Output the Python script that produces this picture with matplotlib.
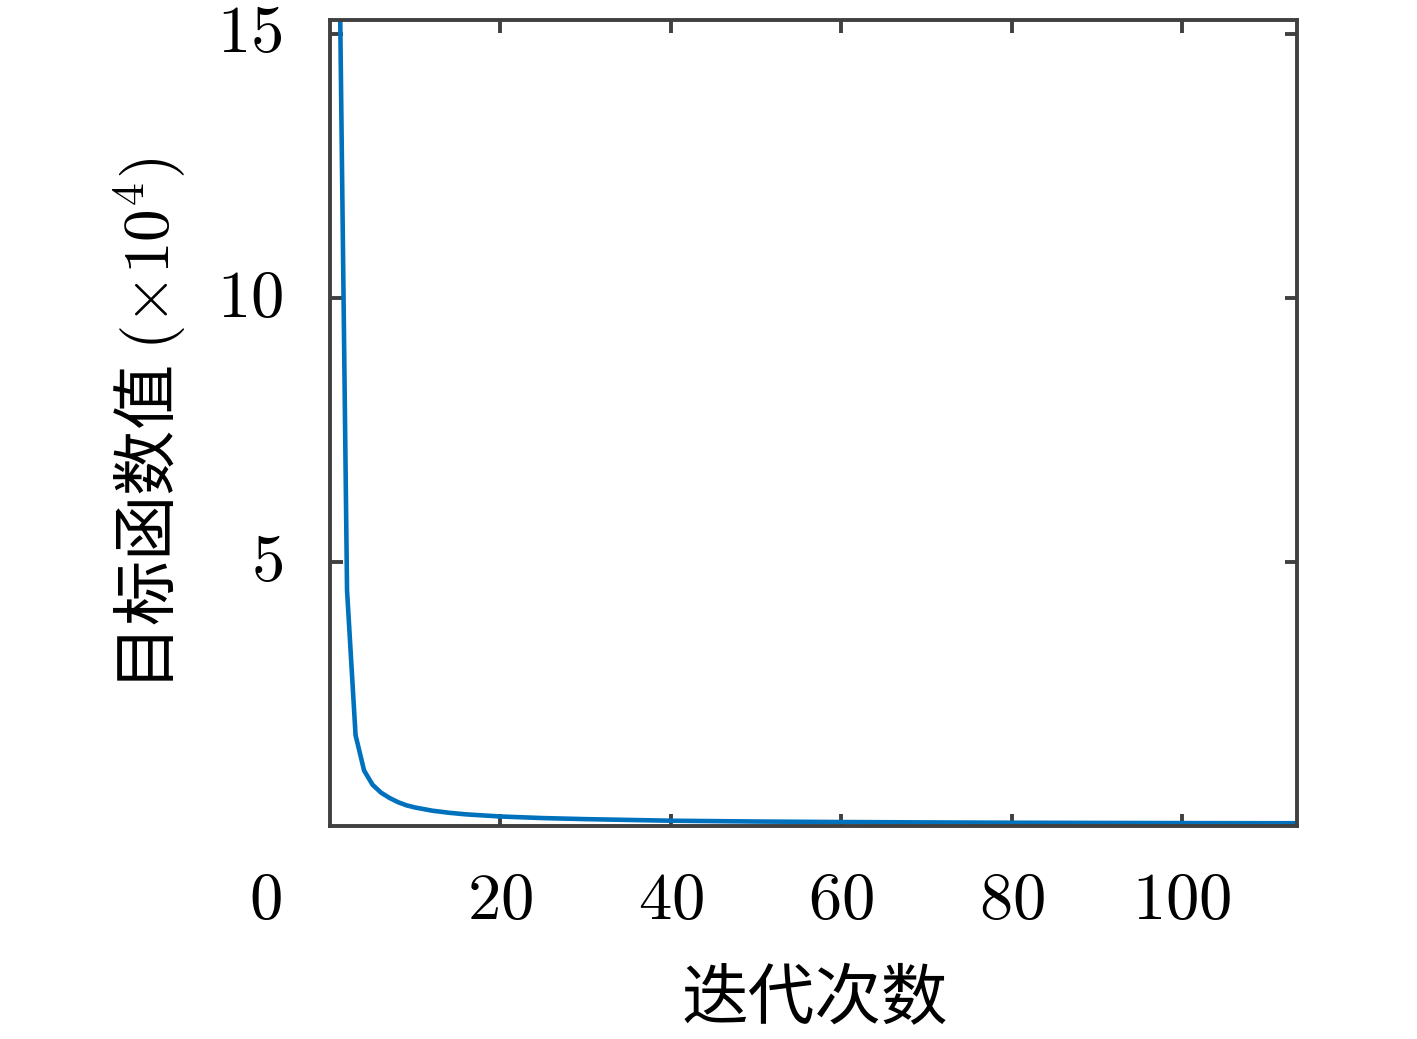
import numpy as np
import matplotlib.pyplot as plt

plt.rcParams['font.family'] = ['Noto Sans CJK SC', 'DejaVu Sans']
plt.rcParams['mathtext.fontset'] = 'cm'

# iteration number and objective value (x 10^4)
iters = [1, 2, 3, 4, 5, 6, 7, 8, 9, 10, 12, 14, 16, 18, 20, 25, 30, 35, 40,
         50, 60, 70, 80, 90, 100, 114]
obj = [18.0, 4.46, 1.72, 1.05, 0.78, 0.63, 0.53, 0.45, 0.39, 0.35, 0.29, 0.25,
       0.22, 0.20, 0.18, 0.15, 0.13, 0.115, 0.10, 0.085, 0.075, 0.068, 0.062,
       0.058, 0.055, 0.052]
xticks = [20, 40, 60, 80, 100]
yticks = [5, 10, 15]

fig = plt.figure(figsize=(14.17, 10.39), dpi=100)
ax = fig.add_axes([330/1417, 1-826/1039, 967/1417, 806/1039])

ax.plot(iters, obj, color='#0072BD', lw=3.3)
ax.set_xlim(0, 113.5)
ax.set_ylim(0, 15.26)

ax.set_xticks(xticks)
ax.set_xticklabels(['$%d$' % t for t in xticks])
ax.set_yticks(yticks)
ax.set_yticklabels(['$%d$' % t for t in yticks])

for s in ax.spines.values():
    s.set_color('#404040')
    s.set_linewidth(2.8)
ax.tick_params(direction='in', length=9, width=2.8, color='#404040',
               top=True, right=True, labelsize=48, labelcolor='black')
ax.tick_params(axis='x', pad=29)
ax.tick_params(axis='y', pad=34)
for lab in ax.get_yticklabels():
    lab.set_va('center')

fig.text(265/1417, 1-900/1039, '$0$', fontsize=48, ha='center', va='center')

ax.set_xlabel('迭代次数', fontsize=48, va='center')
ax.xaxis.set_label_coords(0.5015, -0.216)
ax.set_ylabel('目标函数值 $(\\times 10^4)$', fontsize=47, va='center')
ax.yaxis.set_label_coords(-0.186, 0.498)

fig.savefig('out.png', dpi=100)
